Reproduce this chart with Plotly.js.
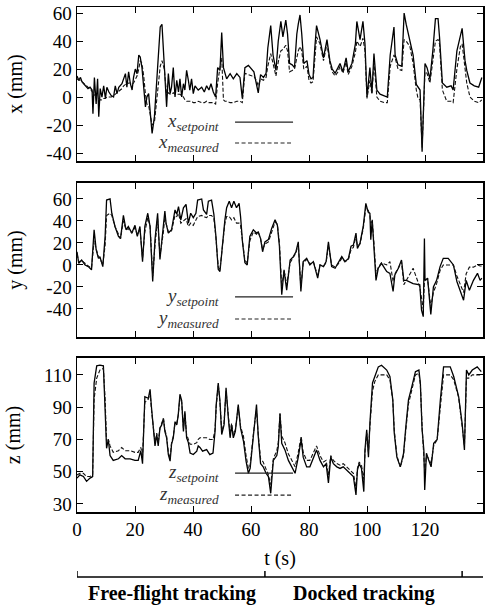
<!DOCTYPE html>
<html><head><meta charset="utf-8">
<script src="https://cdn.plot.ly/plotly-3.0.1.min.js"></script>
<style>html,body{margin:0;padding:0;background:#fff}#chart{width:493px;height:613px}</style>
</head><body><div id="chart"></div><script>
// ---- Panel 1: x (mm) ----
const tX = [
 0,0.6,1.2,1.7,2.3,3,3.8,4.5,5.2,5.5,
 6,6.6,7.1,7.5,8,8.6,9.2,9.8,10.3,11,
 11.8,12.6,13.2,13.8,14.4,15.5,16.1,16.7,17.2,17.8,
 18.4,19,19.5,20.1,20.7,21.3,21.8,22.4,23,23.6,
 24.1,24.7,25.3,25.9,26.7,27.6,28.2,28.7,29.3,30.1,
 30.9,31.5,32.1,32.6,33.2,33.8,34.4,35,35.5,36.1,
 36.7,37.2,37.8,38.4,38.9,39.5,40.1,40.7,41.8,43,
 43.9,44.7,45.5,46.2,47,47.8,48.5,49.3,49.9,50.5,
 51,51.6,52.8,53.9,55.1,56.2,57,57.9,59.1,60.4,
 61,61.8,62.5,63.3,64.3,65.2,65.8,66.8,67.6,68.6,
 69.4,70.3,71,72,72.6,73.3,74.2,75,75.8,76.3,
 76.9,77.5,78.2,79.3,80,80.7,81.4,82,82.6,83.8,
 85,86.2,87.2,88,89,90,90.7,91.7,92.8,93.5,
 94.8,96,96.5,97.6,98.6,99.3,100,101,101.7,102.4,
 103.4,104.5,106,107,108,109.3,109.7,110.7,112,112.8,
 113.5,114.8,115.9,117,117.6,118.3,119,120,120.7,121.7,
 122.7,123.6,124.5,125,126,127.5,129,129.7,131,132.2,
 132.8,133.8,134.4,135.5,137,138.5,139.6];
const xSetpoint = [
 15,12,14,11,9.5,8,6,7,5,-12,
 14,-5,13,-14,6,0,8,-1,7,3.6,
 1,0,8,2.4,7,9.5,13,16.7,7,18,
 9.5,5,14,20,16.7,30,28.6,21,7,-7,
 0,2.4,-12,-26,-14,16.7,40.5,50,52,24,
 -7,16.7,2.4,7,21,0,12,3.6,13,0,
 9.5,5,19,12,5,13,2.4,8,5,7,
 3.6,8,5,9.5,3.6,0,21,19,46,21,
 16.7,13,16.7,13,16.7,14,-1,21,22.6,19,
 18,10,3,16,14,17,35,51,30,19,
 40,54,43,55,45,24,23,21,45,52,
 58.6,45,24,26,16,13,14,35,51,41,
 28,41,26,20,17,21,24,18,28,18,
 24,38,54,41,54,38,0,21,3,31,
 5,2,1,0,30,50,30,23,22,60,
 52,41,30,9,7,5,-39,24,21,13,
 33,56,56,43,10,7,8,5,33,45,
 49,26,19,10,8,7,14];
const xMeasured = [
 13,12,12,11,10,8,7,6,4,3,
 2,0,0,-1,-2,-2,-1,-1,0,0,
 0,1,2,3,4,6,8,9,9,10,
 10,9,10,13,15,20,26,24,15,2,
 -5,-6,-12,-20,-18,0,12,22,26,20,
 2,3,2,2,3,2,2,2,2,1,
 0,-2,-3,-3,-3,-3,-4,-4,-3,-4,
 -4,-3,-4,-4,-4,-5,10,21,28,-2,
 -3,-3,-4,-4,-3,-3,-4,17,16,15,
 15,12,8,13,12,14,22,31,24,15,
 25,33,34,37,33,18,19,20,28,33,
 36,33,20,22,12,10,11,28,43,38,
 26,38,24,18,15,18,22,17,25,16,
 22,32,40,36,42,33,-1,12,2,25,
 0,-3,-4,-4,22,30,28,20,19,41,
 40,36,24,5,-1,-2,-36,18,17,10,
 25,40,41,38,5,-3,-3,-4,20,36,
 38,22,10,0,-3,-4,-2];

// ---- Panel 2: y (mm) ----
const tY = [
 0,0.6,1.6,2.8,3.9,5,5.9,6.6,7.4,7.9,
 8.9,9.7,10.2,11.4,12,13.1,14.3,15,16,16.9,
 17.7,18.9,20,20.8,21.7,22.6,23.4,24.4,25.2,26.1,
 26.9,27.8,28.6,29.8,30.3,30.7,31.5,32.6,33.8,34.4,
 35,35.8,36.7,37.6,38.4,39.2,40.1,41,41.6,43,
 43.6,44.7,45.3,46.4,47.2,47.9,48.7,49.3,50.2,51,
 51.6,52.5,53.3,54.1,55,55.9,56.4,57.1,57.9,58.7,
 59.6,60.8,61.9,62.5,63.3,64,64.8,66,67.1,68.3,
 69.1,69.8,70.6,71.4,72.3,73.5,74.6,75.5,76.3,77.2,
 78,79.2,80.3,81.5,83,83.8,85,85.9,86.7,87.8,
 89,90.1,91.3,92.4,93.6,94.5,95.3,96.2,96.7,97.6,
 98.7,99.6,100.4,101,101.3,101.8,102.4,103.1,103.9,105,
 106.8,107.9,109,109.6,110.8,111.9,112.7,113.6,115.9,118.2,
 118.8,119.4,119.8,120,120.9,122,122.9,124,125.2,126.3,
 128,129.8,131,132.1,133.3,134.2,135.3,136.7,138.1,139,
 139.6];
const ySetpoint = [
 12,1.5,4.5,0,-1.5,-4.5,32,14,6,7.6,
 -1.5,26,59,60,47,35,26,24,45,32,
 35,29,36,26,35,3,35,47,35,-15,
 23,47,5,32,49,38,29,32,50,46,
 53,41,52,55,38,47,43,47,59,60,
 50,46,58,59,46,26,-4,-6,23,41,
 52,58,52,58,52,56,44,20,2,0,
 26,32,29,30,24,12,21,23,33,41,
 36,17,-27,-4.5,-23,4.5,7.6,12,21,-24,
 3,6,0,3,-12,0,-1.5,3,21,-1.5,
 -3,1.5,7.6,3,6,17,18,29,15,20,
 35,56,48,47,23,41,17,-14,-3,1.5,
 -6,-7.6,-24,-9,-3,4.5,-14,-14,-17,-18,
 -41,-47,24,-14,-12,-45,-20,-14,-1.5,6,
 6,0,-15,-23,-32,-14,-23,-14,-7.6,-14,
 -12];
const yMeasured = [
 10,3,4,1,-1,-3,22,15,7,6,
 0,18,45,47,45,35,27,24,40,32,
 33,29,34,27,33,6,30,43,35,-10,
 18,42,8,30,44,38,30,31,45,44,
 47,38,40,42,35,38,36,40,44,45,
 44,43,45,45,42,25,-2,-4,20,38,
 44,44,41,43,38,38,36,18,4,2,
 22,30,28,30,24,14,19,21,29,39,
 37,20,-20,-5,-18,2,7,11,19,-20,
 2,5,1,3,-10,0,-1,2,18,0,
 -2,1,6,3,5,14,16,26,17,19,
 33,52,50,45,38,40,20,-8,-2,2,
 0,3,-15,-8,-3,3,-18,-14,-3,-20,
 -30,-40,-15,-14,-13,-38,-25,-17,-5,0,
 0,0,-10,-18,-25,-8,-2,-2,0,-1,
 -1];

// ---- Panel 3: z (mm) ----
const tZ = [
 0,1,2.2,3.3,4.5,5.4,5.9,6.8,7.9,9.1,
 9.7,10.2,10.8,11.4,12.5,14.3,15.4,16.6,18.3,20,
 21.1,22,22.6,23.4,24.6,25.2,25.7,26.3,26.9,27.5,
 28,28.6,29.2,29.8,30.3,30.9,31.5,32.1,32.6,33.2,
 33.8,34.4,34.9,35.5,36.1,36.7,37.2,37.8,38.4,39,
 40.1,41.3,41.8,42.4,43.3,44.7,45.8,46.9,47.6,48,
 48.7,49.3,49.9,50.7,51.4,52.2,52.8,53.3,53.9,54.6,
 55.6,56.4,57.4,58.3,59.1,59.7,60.2,60.8,61.4,61.9,
 62.5,63.3,64.2,65.2,66,66.8,67.7,68.9,69.4,70,
 70.6,71.7,72.9,74.1,75.2,76.3,77.3,78,79.2,80.3,
 81.5,82.6,83.8,85,85.9,86.7,87.5,88.4,89.6,90.7,
 91.8,93,94.1,95.3,96.2,96.7,97.3,98.1,98.9,99.3,
 99.9,100.5,101,101.9,102.7,103.9,105,106.8,107.9,108.9,
 109.4,110.3,111.5,112.6,113.4,114.3,115.5,116.7,117.9,118.4,
 119,119.6,119.9,120.5,121.3,122.1,123,124.2,125.3,126.4,
 128.7,129.9,131.6,132.8,133.6,134.3,135.1,136.3,138,139.4];
const zSetpoint = [
 46,48,47,44,46,47,105,115.6,116,115.6,
 88,64.5,70,60,57,58,60,58,58,57,
 57,63,55,96.5,95.5,101,89.5,75,66,73,
 66,77,79,83,75,71,60.6,56.5,67,71,
 81,79,85,98,94,75,87.5,71,68,61.6,
 60.6,62.7,66,65,62.7,63.7,60.6,61.6,75,91.6,
 105,93.7,73,79,102,83,71,79,71,75,
 91.6,77,69,56.5,49,52,60.6,73,83,91.6,
 72,55,53,49,47,36.6,57,60,65.5,86,
 67.6,63.5,57,53,49,59,70,59,53,53,
 59,63.5,57,53,55,43,59,55,53,52,
 53,51,49,47,35.6,51,55,52,37.6,63.5,
 76,59,80,105,109,115,116,113,109,94.5,
 74,59,53,61.4,78,94.5,103,112,113,105,
 76,63.5,38.7,61.4,57,53,67.6,70,94.5,115,
 115,109,96.6,80,63.5,113,110,113,115,112];
const zMeasured = [
 48,49,49,47,47,48,95,108,113,114,
 95,68,70,66,62,63,65,63,63,62,
 62,65,60,93,95,99,88,76,68,74,
 68,77,80,83,76,72,62,58,68,72,
 80,80,85,96,93,77,86,73,70,67,
 67,68,70,71,71,71,70,70,76,90,
 104,93,75,80,100,84,73,80,73,76,
 90,78,72,60,52,54,61,73,82,88,
 73,58,56,52,48,42,58,63,68,86,
 72,68,61,57,53,62,72,62,57,57,
 62,66,60,56,57,48,60,57,55,54,
 55,53,51,49,40,52,56,54,45,62,
 74,62,78,100,106,110,110,110,107,94,
 76,60,53,60,76,92,101,110,111,104,
 78,63,50,60,58,55,66,70,92,110,
 110,107,96,80,66,108,108,110,110,110];

// tick values / labels
const timeTicks = [0,20,40,60,80,100,120,140];
const xyTickVals = [-40,-20,0,20,40,60];
const xyTickText = ['-40','-20','0','20','40','60'];
const zTickVals = [30,50,70,90,110];
const zTickText = ['30','50','70','90','110'];
// phase bracket below the time axis
const phaseBounds = [0, 64.8, 132.8];
const phaseLabels = ['Free-flight tracking', 'Docked tracking'];
const phaseCenters = [32.8, 99.0];

const FONT = 'Liberation Serif, Times New Roman, serif';
const solid = {color:'#000', width:1.3};
const dashed = {color:'#111', width:1.1, dash:'4px,2px'};

const traces = [
  {x:tX, y:xSetpoint, xaxis:'x', yaxis:'y', mode:'lines', line:solid, name:'x setpoint'},
  {x:tX, y:xMeasured, xaxis:'x', yaxis:'y', mode:'lines', line:dashed, name:'x measured'},
  {x:tY, y:ySetpoint, xaxis:'x2', yaxis:'y2', mode:'lines', line:solid, name:'y setpoint'},
  {x:tY, y:yMeasured, xaxis:'x2', yaxis:'y2', mode:'lines', line:dashed, name:'y measured'},
  {x:tZ, y:zSetpoint, xaxis:'x3', yaxis:'y3', mode:'lines', line:solid, name:'z setpoint'},
  {x:tZ, y:zMeasured, xaxis:'x3', yaxis:'y3', mode:'lines', line:dashed, name:'z measured'}
];

const axCommon = {showline:true, linecolor:'#000', linewidth:1.5, mirror:'ticks', ticks:'inside',
  ticklen:6, tickwidth:1, tickcolor:'#000', showgrid:false, zeroline:false,
  tickfont:{family:FONT, size:19, color:'#000'}};
const xCommon = Object.assign({}, axCommon, {range:[0,140], tickvals:timeTicks, showticklabels:false});
const titleFont = {family:FONT, size:20, color:'#000'};

const layout = {
  width:493, height:613, margin:{l:77, r:10, t:7, b:101},
  paper_bgcolor:'#fff', plot_bgcolor:'#fff', showlegend:false,
  font:{family:FONT, size:18, color:'#000'},
  xaxis: Object.assign({}, xCommon, {anchor:'y'}),
  xaxis2: Object.assign({}, xCommon, {anchor:'y2'}),
  xaxis3: Object.assign({}, xCommon, {anchor:'y3', showticklabels:true,
    title:{text:'t (s)', standoff:11, font:titleFont}}),
  yaxis: Object.assign({}, axCommon, {domain:[0.695,1], range:[-45.7,64.3], tickvals:xyTickVals, ticktext:xyTickText,
    title:{text:'x (mm)', standoff:18, font:titleFont}}),
  yaxis2: Object.assign({}, axCommon, {domain:[0.3465,0.6515], range:[-65.5,74.5], tickvals:xyTickVals, ticktext:xyTickText,
    title:{text:'y (mm)', standoff:18, font:titleFont}}),
  yaxis3: Object.assign({}, axCommon, {domain:[0,0.305], range:[25,120.5], tickvals:zTickVals, ticktext:zTickText,
    title:{text:'z (mm)', standoff:18, font:titleFont}}),
  shapes:[], annotations:[]
};

// in-plot legends (text at left, line sample at right)
const legendRows = [
  {xr:'x', yr:'y domain', ys:0.253, ym:0.117, s:'x'},
  {xr:'x2', yr:'y2 domain', ys:0.26, ym:0.117, s:'y'},
  {xr:'x3', yr:'y3 domain', ys:0.253, ym:0.11, s:'z'}
];
legendRows.forEach(r => {
  layout.shapes.push({type:'line', xref:r.xr, yref:r.yr, x0:54.5, x1:74.5, y0:r.ys, y1:r.ys, line:{color:'#222', width:1.2}});
  layout.shapes.push({type:'line', xref:r.xr, yref:r.yr, x0:54.5, x1:74.5, y0:r.ym, y1:r.ym, line:{color:'#222', width:1.2, dash:'4px,2.5px'}});
  layout.annotations.push({xref:r.xr, yref:r.yr, x:49.7, y:r.ys, xanchor:'right', yanchor:'middle', showarrow:false,
    text:'<i>'+r.s+'<sub>setpoint</sub></i>', font:{family:FONT, size:19, color:'#333'}});
  layout.annotations.push({xref:r.xr, yref:r.yr, x:49.7, y:r.ym, xanchor:'right', yanchor:'middle', showarrow:false,
    text:'<i>'+r.s+'<sub>measured</sub></i>', font:{family:FONT, size:19, color:'#333'}});
});

// phase bracket
layout.shapes.push({type:'line', xref:'x3', yref:'paper', x0:0, x1:140, y0:-0.1287, y1:-0.1287, line:{color:'#000', width:1.5}});
phaseBounds.forEach(b => layout.shapes.push({type:'line', xref:'x3', yref:'paper', x0:b, x1:b, y0:-0.1287, y1:-0.1168, line:{color:'#000', width:1.5}}));
phaseLabels.forEach((lab, i) => layout.annotations.push({xref:'x3', yref:'paper', x:phaseCenters[i], y:-0.162, xanchor:'center', yanchor:'middle',
  showarrow:false, text:'<b>'+lab+'</b>', font:{family:FONT, size:20, color:'#000'}}));

Plotly.newPlot('chart', traces, layout, {displayModeBar:false, staticPlot:true});
</script></body></html>
